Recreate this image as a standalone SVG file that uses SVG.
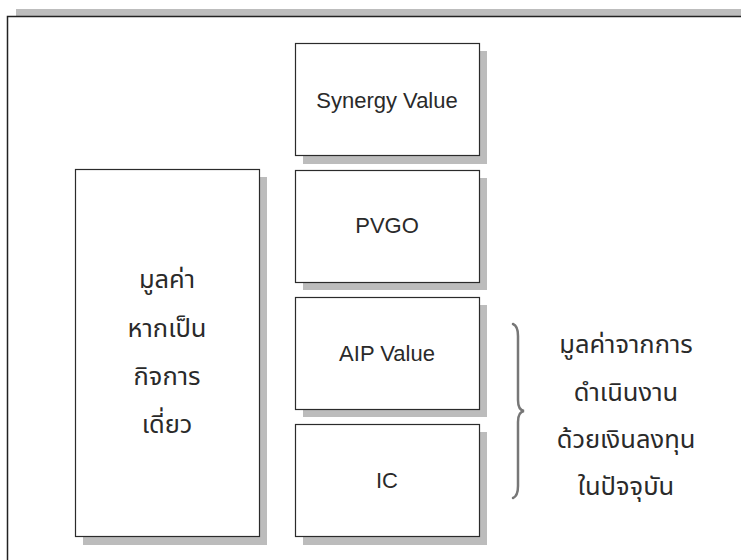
<svg xmlns="http://www.w3.org/2000/svg" width="741" height="560" viewBox="0 0 741 560">
  <style>
    .shadow { fill: #bcbcbc; }
    .box { fill: #ffffff; stroke: #2b2b2b; stroke-width: 1.2; }
    .lat { font-family: "Liberation Sans", Arial, sans-serif; font-size: 22px; fill: #2a2a2a; text-anchor: middle; }
    .thai { font-family: "Noto Sans Thai", "Noto Sans Thai UI", "Noto Sans", "DejaVu Sans", sans-serif; font-size: 25.5px; fill: #2a2a2a; text-anchor: middle; }
  </style>
  <rect width="741" height="560" fill="#ffffff"/>
  <g id="frame">
    <rect x="16" y="9" width="725" height="7" fill="#bdbdbd"/>
    <path d="M7.5,560 V16.5 H741" fill="none" stroke="#222222" stroke-width="1.5"/>
  </g>
  <g id="standalone">
    <rect class="shadow" x="83" y="177" width="184" height="368"/>
    <rect class="box" x="75.5" y="169.5" width="184" height="367"/>
    <text class="thai" x="167" y="288">มูลค่า</text>
    <text class="thai" x="167" y="337">หากเป็น</text>
    <text class="thai" x="167" y="385">กิจการ</text>
    <text class="thai" x="167" y="433">เดี่ยว</text>
  </g>
  <g id="synergy">
    <rect class="shadow" x="303" y="51" width="184" height="113"/>
    <rect class="box" x="295.5" y="43.5" width="184" height="112"/>
    <text class="lat" x="387" y="108">Synergy Value</text>
  </g>
  <g id="pvgo">
    <rect class="shadow" x="303" y="178" width="184" height="112"/>
    <rect class="box" x="295.5" y="170.5" width="184" height="112"/>
    <text class="lat" x="387" y="233">PVGO</text>
  </g>
  <g id="aip">
    <rect class="shadow" x="303" y="305" width="184" height="112"/>
    <rect class="box" x="295.5" y="297.5" width="184" height="112"/>
    <text class="lat" x="387" y="361">AIP Value</text>
  </g>
  <g id="ic">
    <rect class="shadow" x="303" y="432" width="184" height="113"/>
    <rect class="box" x="295.5" y="424.5" width="184" height="112"/>
    <text class="lat" x="387" y="488">IC</text>
  </g>
  <g id="brace">
    <path d="M513,324 Q518,326 518,336 L518,400 Q518,410 524,411 Q518,412 518,422 L518,486 Q518,496 513,498" fill="none" stroke="#777777" stroke-width="2.5" stroke-linecap="round"/>
  </g>
  <g id="current-value-label">
    <text class="thai" x="626" y="353">มูลค่าจากการ</text>
    <text class="thai" x="626" y="401">ดำเนินงาน</text>
    <text class="thai" x="626" y="448">ด้วยเงินลงทุน</text>
    <text class="thai" x="626" y="495">ในปัจจุบัน</text>
  </g>
</svg>
